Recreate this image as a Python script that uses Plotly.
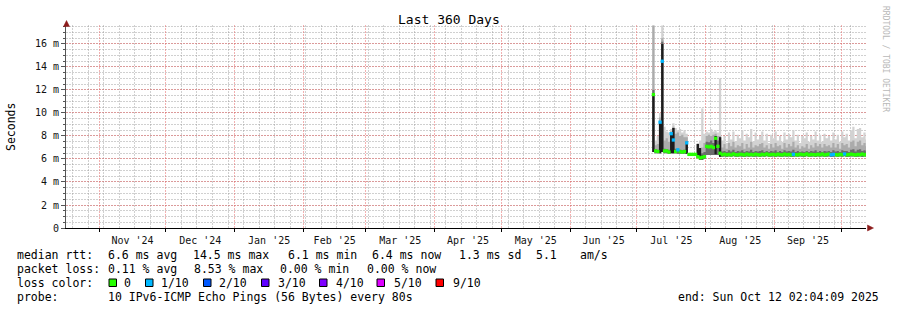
import plotly.graph_objects as go
import pandas as pd

# ---------------- data ----------------
series_start = "2025-07-07 22:00"      # first consolidated sample shown
range_start = "2024-10-17 02:04:09"
range_end = "2025-10-12 02:04:09"

# lowest ping (bottom of smoke), ms
lo = [6.6, 6.5, 6.5, 6.5, 6.6, 6.5, 6.5, 6.45, 6.5, 6.5,
      6.5, 6.45, 6.45, 6.45, 6.45, 6.45, 6.4, 6.4, 6.4, 6.4,
      6.1, 5.95, 5.95, 6.0, 6.35, 6.35, 6.35, 6.35, 6.4, 6.35,
      6.2,
      6.2, 6.22, 6.18, 6.21, 6.2, 6.23, 6.19, 6.2, 6.22, 6.2,
      6.18, 6.21, 6.2, 6.22, 6.19, 6.2, 6.21, 6.18, 6.22, 6.2,
      6.23, 6.19, 6.2, 6.21, 6.18, 6.22, 6.2, 6.19, 6.21, 6.2,
      6.22, 6.18, 6.2, 6.21, 6.19, 6.22, 6.2, 6.18, 6.23, 6.19,
      6.2, 6.21, 6.18, 6.22, 6.2, 6.21, 6.19, 6.2, 6.22, 6.18,
      6.2, 6.21, 6.19, 6.22, 6.2, 6.23, 6.18, 6.2, 6.21, 6.22,
      6.19, 6.2, 6.22, 6.18, 6.21, 6.2]

# top of the black core (only first weeks)
core = [11.7, 6.5, 6.5, 9.3, 16.0, 6.5, 6.5, 6.45, 8.3, 8.7,
        6.5, 6.45, 6.45, 6.45, 6.45, 7.5, 6.4, 6.4, 6.4, 6.4,
        7.3, 6.95, 6.3, 6.0, 6.35, 6.35, 6.35, 6.35, 8.0, 6.35,
        7.9, 6.2]

# top of the dark grey smoke band
dk = [12.0, 6.85, 6.8, 9.3, 16.2, 6.9, 6.85, 6.8, 8.3, 8.7,
      6.9, 6.9, 6.8, 6.75, 6.8, 7.5, 6.4, 6.4, 6.4, 6.4,
      7.3, 6.4, 6.5, 6.6, 7.5, 7.45, 7.6, 7.4, 8.0, 7.6,
      7.9,
      6.65, 6.7, 6.6, 6.75, 6.65, 6.8, 6.6, 6.7, 6.65, 6.75,
      6.6, 6.7, 6.65, 6.8, 6.6, 6.7, 6.65, 6.7, 6.75, 6.6,
      6.7, 6.6, 6.7, 6.65, 6.75, 6.6, 6.7, 6.6, 6.75, 6.65,
      6.7, 6.65, 6.8, 6.6, 6.7, 6.6, 6.65, 6.6, 6.7, 6.6,
      6.7, 6.65, 6.75, 6.6, 6.7, 6.6, 6.7, 6.65, 6.7, 6.6,
      6.75, 6.65, 6.7, 6.6, 6.75, 6.7, 6.7, 6.6, 6.8, 6.85,
      6.65, 6.8, 6.85, 6.7, 6.75, 6.65]

# top of the medium grey smoke band
md = [17.6, 7.2, 7.3, 9.6, 16.5, 7.6, 7.8, 7.5, 8.4, 8.8,
      8.2, 8.3, 8.0, 8.1, 7.9, 7.9, 6.4, 6.4, 6.4, 6.4,
      7.3, 6.8, 7.0, 7.4, 8.0, 8.1, 8.0, 8.1, 8.2, 8.0,
      8.0,
      7.0, 7.3, 6.9, 7.4, 7.1, 7.5, 7.0, 7.2, 7.1, 7.4,
      6.9, 7.3, 7.0, 7.5, 7.0, 7.2, 7.1, 7.3, 7.4, 7.0,
      7.2, 6.9, 7.3, 7.0, 7.4, 7.1, 7.2, 6.9, 7.4, 7.0,
      7.3, 7.1, 7.5, 7.0, 7.2, 6.9, 7.1, 7.0, 7.3, 6.9,
      7.2, 7.0, 7.4, 7.1, 7.3, 7.0, 7.3, 7.1, 7.2, 7.0,
      7.4, 7.0, 7.3, 6.9, 7.4, 7.2, 7.3, 7.0, 7.5, 7.6,
      7.1, 7.5, 7.6, 7.2, 7.4, 7.1]

# highest ping (top of light smoke)
hi = [17.6, 7.6, 8.0, 10.0, 17.6, 8.8, 8.4, 8.3, 8.6, 9.1,
      8.7, 8.5, 8.6, 8.3, 8.5, 8.2, 6.4, 6.4, 6.4, 6.4,
      7.4, 7.6, 10.4, 8.2, 8.4, 8.3, 8.6, 8.4, 8.5, 8.3,
      13.0,
      7.6, 8.0, 7.4, 8.3, 7.7, 8.4, 7.5, 8.1, 7.8, 8.5,
      7.6, 8.2, 7.9, 8.6, 7.5, 8.3, 7.7, 8.0, 8.4, 7.6,
      8.2, 7.4, 8.1, 7.8, 8.4, 7.6, 8.0, 7.5, 8.3, 7.7,
      8.2, 7.9, 8.5, 7.6, 8.1, 7.4, 8.0, 7.8, 8.3, 7.5,
      8.0, 7.7, 8.4, 7.6, 8.1, 7.5, 8.2, 7.8, 8.0, 7.6,
      8.3, 7.7, 8.1, 7.5, 8.4, 7.9, 8.2, 7.6, 8.5, 8.8,
      7.8, 8.6, 8.7, 7.9, 8.3, 7.7]

# median rtt, ms
med = [11.6, 6.7, 6.65, 9.2, 14.5, 6.7, 6.7, 6.6, 8.2, 7.65,
       6.65, 6.8, 6.65, 6.6, 6.65, 7.4, 6.4, 6.4, 6.4, 6.4,
       6.2, 6.1, 6.15, 6.2, 7.1, 7.05, 7.1, 7.0, 7.8, 7.1,
       6.5,
       6.38, 6.42, 6.36, 6.40, 6.35, 6.44, 6.38, 6.36, 6.41, 6.39,
       6.35, 6.43, 6.37, 6.40, 6.36, 6.42, 6.38, 6.35, 6.41, 6.37,
       6.44, 6.36, 6.39, 6.40, 6.35, 6.42, 6.38, 6.36, 6.43, 6.37,
       6.40, 6.35, 6.41, 6.38, 6.36, 6.42, 6.39, 6.37, 6.44, 6.35,
       6.40, 6.38, 6.36, 6.41, 6.37, 6.43, 6.35, 6.39, 6.42, 6.36,
       6.40, 6.38, 6.35, 6.41, 6.37, 6.44, 6.36, 6.39, 6.42, 6.38,
       6.35, 6.40, 6.37, 6.43, 6.36, 6.40]

# lost pings out of 10
loss = [0, 0, 0, 1, 1, 0, 0, 0, 1, 1,
        0, 1, 0, 0, 0, 1, 0, 0, 0, 0,
        0, 0, 0, 0, 0, 0, 0, 0, 0, 0,
        0,
        0, 0, 0, 0, 0, 0, 0, 0, 0, 0,
        0, 0, 0, 0, 0, 0, 0, 0, 0, 0,
        0, 0, 0, 0, 0, 0, 0, 0, 0, 0,
        0, 0, 1, 0, 0, 0, 0, 0, 0, 0,
        0, 0, 0, 0, 0, 0, 0, 0, 0, 1,
        1, 0, 0, 0, 0, 1, 0, 0, 0, 0,
        0, 0, 0, 0, 0, 0]

y_tickvals = [0, 2, 4, 6, 8, 10, 12, 14, 16]
y_ticktext = ["0", "2 m", "4 m", "6 m", "8 m", "10 m", "12 m", "14 m", "16 m"]
y_max = 17.65

loss_levels = [0, 1, 2, 3, 4, 5, 9]
loss_labels = ["0", "1/10", "2/10", "3/10", "4/10", "5/10", "9/10"]
loss_colors = ["#26ff00", "#00b8ff", "#0059ff", "#5e00ff", "#7e00ff", "#dd00ff", "#ff0000"]

rtt_items = ["median rtt:", "6.6 ms avg", "14.5 ms max", "6.1 ms min", "6.4 ms now", "1.3 ms sd", "5.1", "am/s"]
ploss_items = ["packet loss:", "0.11 % avg", "8.53 % max", "0.00 % min", "0.00 % now"]
probe_items = ["probe:", "10 IPv6-ICMP Echo Pings (56 Bytes) every 80s"]
end_text = "end: Sun Oct 12 02:04:09 2025"
title_text = "Last 360 Days"
unit_text = "Seconds"
watermark = "RRDTOOL / TOBI OETIKER"

# ---------------- figure ----------------
W, H = 897, 310
L, R, T, B = 66, 866, 25, 228
FONT = "DejaVu Sans Mono"


def PX(x):
    return (x - L) / (R - L)


def PY(y):
    return (B - y) / (B - T)


dates = list(pd.date_range(series_start, periods=len(med), freq="D"))
step_x = dates + [pd.Timestamp(range_end)]


def close(v):
    return list(v) + [v[-1]]


fig = go.Figure()


def band(xs, base, top, color):
    fig.add_trace(go.Scatter(x=xs, y=base, mode="lines", line=dict(width=0, shape="hv"),
                             hoverinfo="skip", showlegend=False))
    fig.add_trace(go.Scatter(x=xs, y=top, mode="lines", line=dict(width=0, shape="hv"),
                             fill="tonexty", fillcolor=color, hoverinfo="skip", showlegend=False))


band(step_x, close(lo), close(hi), "#d2d2d2")
band(step_x, close(lo), close(md), "#ababab")
band(step_x, close(lo), close(dk), "#6c6c6c")
band(dates[:len(core)], lo[:len(core)], core, "#1c1c1c")

mids = [d + pd.Timedelta(hours=12) for d in dates]
for lvl, col in zip(loss_levels, loss_colors):
    xs = [m for m, l in zip(mids, loss) if l == lvl]
    ys = [v for v, l in zip(med, loss) if l == lvl]
    if xs:
        fig.add_trace(go.Scatter(x=xs, y=ys, mode="markers",
                                 marker=dict(symbol="square", size=3.3, color=col, line=dict(width=0)),
                                 hoverinfo="skip", showlegend=False))

grid_red = "rgba(230,100,100,0.5)"
grid_grey = "rgba(150,150,150,0.45)"

fig.update_layout(
    width=W, height=H, autosize=False,
    margin=dict(l=L, r=W - R, t=T, b=H - B, pad=0),
    paper_bgcolor="white", plot_bgcolor="white",
    showlegend=False,
    font=dict(family=FONT, color="black", size=10),
    xaxis=dict(
        type="date", range=[range_start, range_end],
        dtick="M1", tick0="2024-11-01", ticklabelmode="period", tickformat="%b '%y",
        showgrid=True, gridcolor=grid_red, griddash="2px,1px", gridwidth=1,
        minor=dict(dtick=7 * 86400000, tick0="2024-10-20", showgrid=True,
                   gridcolor=grid_grey, griddash="2px,1px", gridwidth=1),
        showline=True, linecolor="black", linewidth=1,
        ticks="outside", ticklen=3, tickcolor="black",
        tickfont=dict(family=FONT, size=10, color="#111"), zeroline=False, fixedrange=True,
    ),
    yaxis=dict(
        range=[0, y_max], tickmode="array", tickvals=y_tickvals, ticktext=y_ticktext,
        showgrid=True, gridcolor=grid_red, griddash="2px,1px", gridwidth=1,
        minor=dict(dtick=0.5, tick0=0, showgrid=True, gridcolor=grid_grey, griddash="2px,1px",
                   ticks="outside", ticklen=2, tickcolor="#555"),
        showline=True, linecolor="#555", linewidth=1,
        ticks="outside", ticklen=4, tickcolor="#555",
        tickfont=dict(family=FONT, size=10, color="#111"), zeroline=False, fixedrange=True,
    ),
)

ann = []


def text(s, x, y, size=11.5, anchor="left", angle=0, color="black", yanchor="middle"):
    ann.append(dict(text=s, x=PX(x), y=PY(y), xref="paper", yref="paper", showarrow=False,
                    xanchor=anchor, yanchor=yanchor, textangle=angle,
                    font=dict(family=FONT, size=size, color=color), borderpad=0))


text(title_text, 448.5, 19, size=13, anchor="center")
text(unit_text, 11, 127, size=11.5, anchor="center", angle=-90)
text(watermark, 886, 59, size=8, anchor="center", angle=90, color="#b8b8b8")

rtt_x = [16, 107, 191.5, 286.5, 370.5, 458, 535, 579]
for s, x in zip(rtt_items, rtt_x):
    text(s, x, 254.5)
ploss_x = [16, 107, 193, 279, 365.5]
for s, x in zip(ploss_items, ploss_x):
    text(s, x, 268.5)
text("loss color:", 16, 282.5)
sq_x = [109, 145.5, 203.5, 261.5, 319.5, 377, 436]
lab_x = [123, 160, 218, 276.5, 335, 392.5, 451.5]
shapes = []
for lab, col, sx, lx in zip(loss_labels, loss_colors, sq_x, lab_x):
    text(lab, lx, 282.5)
    shapes.append(dict(type="rect", xref="paper", yref="paper",
                       x0=PX(sx), x1=PX(sx + 7.5), y0=PY(279), y1=PY(286.5),
                       fillcolor=col, line=dict(color="black", width=1)))
text(probe_items[0], 16, 296.5)
text(probe_items[1], 107, 296.5)
text(end_text, 880, 296.5, anchor="right")

# axis arrows
arrow = "#8c1c1c"
shapes.append(dict(type="path", xref="paper", yref="paper",
                   path=f"M {PX(63.5)},{PY(26.5)} L {PX(66.5)},{PY(20.5)} L {PX(69.5)},{PY(26.5)} Z",
                   fillcolor=arrow, line=dict(color=arrow, width=0.5)))
shapes.append(dict(type="path", xref="paper", yref="paper",
                   path=f"M {PX(867.5)},{PY(225)} L {PX(873.5)},{PY(228)} L {PX(867.5)},{PY(231)} Z",
                   fillcolor=arrow, line=dict(color=arrow, width=0.5)))

fig.update_layout(annotations=ann, shapes=shapes)
fig.write_html("out.html")
